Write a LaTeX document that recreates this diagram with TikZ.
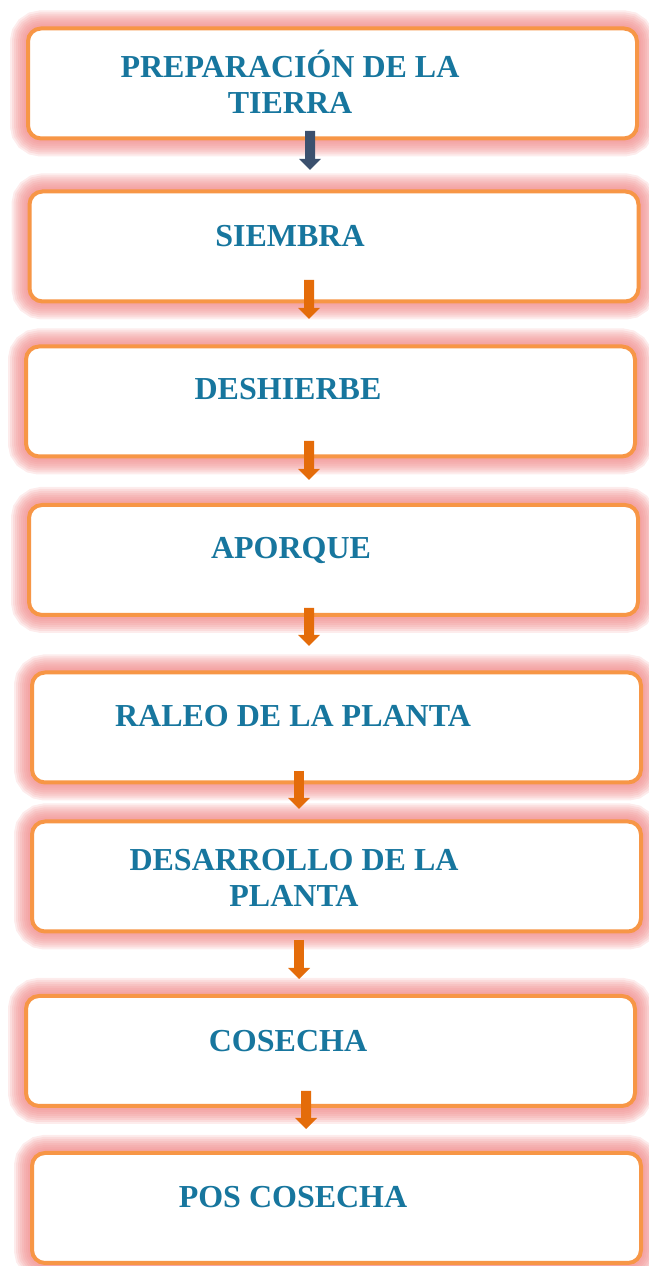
\documentclass[tikz,border=0pt]{standalone}
\usepackage{fontspec}
\setmainfont{Liberation Serif}
\usetikzlibrary{arrows.meta}

\definecolor{boxorange}{HTML}{F79646}
\definecolor{arroworange}{HTML}{E46C0A}
\definecolor{arrowslate}{HTML}{3B506E}
\definecolor{textteal}{HTML}{17769E}
\definecolor{glowred}{HTML}{F08787}

\newcommand{\stepfont}{\fontsize{32bp}{36bp}\selectfont\bfseries}

\tikzset{
  stepbox/.style={draw=boxorange, line width=4bp, fill=white, rounded corners=13bp,
    minimum width=609bp, minimum height=110bp, inner sep=0pt,
    preaction={draw=glowred, draw opacity=0.16, line width=36bp},
    preaction={draw=glowred, draw opacity=0.16, line width=32bp},
    preaction={draw=glowred, draw opacity=0.16, line width=28bp},
    preaction={draw=glowred, draw opacity=0.16, line width=24bp},
    preaction={draw=glowred, draw opacity=0.16, line width=20bp},
    preaction={draw=glowred, draw opacity=0.16, line width=16bp},
    preaction={draw=glowred, draw opacity=0.16, line width=12bp},
    preaction={draw=glowred, draw opacity=0.16, line width=8bp}},
  steptext/.style={text=textteal, font=\stepfont, align=center, inner sep=0pt, anchor=base},
  steparrow/.style={draw=arroworange, line width=10bp,
    -{Triangle[width=22bp,length=11bp,line width=0pt]}},
}

\begin{document}
\begin{tikzpicture}
\useasboundingbox (0,0) rectangle (649bp,1266bp);
%%
\node (node_0) at (332.5bp,1182.5bp) [stepbox] {};
  \node (node_1) at (334bp,1019.5bp) [stepbox] {};
  \node (node_2) at (330.5bp,864.5bp) [stepbox] {};
  \node (node_3) at (333.5bp,706bp) [stepbox] {};
  \node (node_4) at (336.5bp,538.5bp) [stepbox] {};
  \node (node_5) at (336.5bp,389.5bp) [stepbox] {};
  \node (node_6) at (330.5bp,215bp) [stepbox] {};
  \node (node_7) at (336.5bp,58bp) [stepbox] {};
%
\node (text_0) at (290bp,1152bp) [steptext] {PREPARACIÓN DE LA\\TIERRA};
  \node (text_1) at (290bp,1019bp) [steptext] {SIEMBRA};
  \node (text_2) at (288bp,866bp) [steptext] {DESHIERBE};
  \node (text_3) at (291bp,707bp) [steptext] {APORQUE};
  \node (text_4) at (293bp,539bp) [steptext] {RALEO DE LA PLANTA};
  \node (text_5) at (294bp,359bp) [steptext] {DESARROLLO DE LA\\PLANTA};
  \node (text_6) at (288bp,214bp) [steptext] {COSECHA};
  \node (text_7) at (293bp,58bp) [steptext] {POS COSECHA};
%
\draw [steparrow,draw=arrowslate] ([xshift=-22.5bp,yshift=9.5bp]node_0.south) -- ([xshift=-24bp,yshift=19.5bp]node_1.north);
  \draw [steparrow] ([xshift=-25bp,yshift=23.5bp]node_1.south) -- ([xshift=-21.5bp,yshift=25.5bp]node_2.north);
  \draw [steparrow] ([xshift=-21.5bp,yshift=17.5bp]node_2.south) -- ([xshift=-24.5bp,yshift=23bp]node_3.north);
  \draw [steparrow] ([xshift=-24.5bp,yshift=9bp]node_3.south) -- ([xshift=-27.5bp,yshift=24.5bp]node_4.north);
  \draw [steparrow] ([xshift=-37.5bp,yshift=13.5bp]node_4.south) -- ([xshift=-37.5bp,yshift=10.5bp]node_5.north);
  \draw [steparrow] ([xshift=-37.5bp,yshift=-6.5bp]node_5.south) -- ([xshift=-31.5bp,yshift=15bp]node_6.north);
  \draw [steparrow] ([xshift=-24.5bp,yshift=17bp]node_6.south) -- ([xshift=-30.5bp,yshift=22bp]node_7.north);
%
\end{tikzpicture}
\end{document}
